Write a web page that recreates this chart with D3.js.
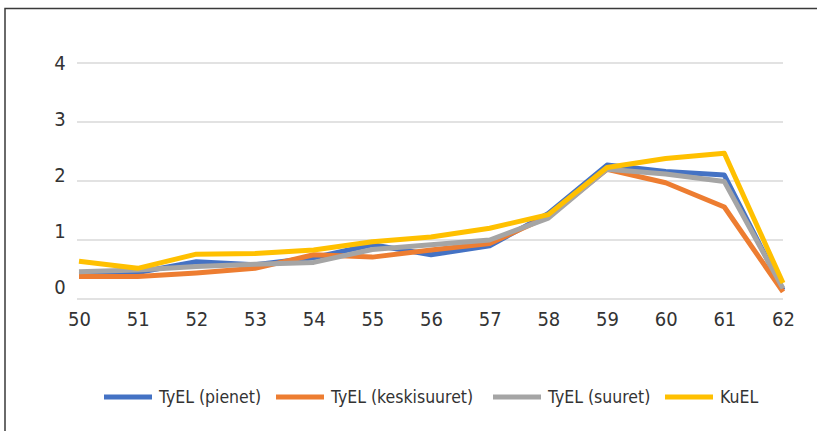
<!DOCTYPE html>
<html>
<head>
<meta charset="utf-8">
<script src="https://cdn.jsdelivr.net/npm/d3@7"></script>
<style>
  body { margin: 0; background: #fff; }
  svg { display: block; font-family: "DejaVu Sans Condensed", sans-serif; }
</style>
</head>
<body>
<script>
const ages = [50, 51, 52, 53, 54, 55, 56, 57, 58, 59, 60, 61, 62];
const yTicks = [0, 1, 2, 3, 4];

const pienet      = [0.42, 0.45, 0.63, 0.58, 0.70, 0.92, 0.75, 0.90, 1.45, 2.27, 2.16, 2.10, 0.15];
const keskisuuret = [0.38, 0.38, 0.44, 0.52, 0.75, 0.71, 0.83, 0.94, 1.40, 2.20, 1.97, 1.56, 0.12];
const suuret      = [0.46, 0.49, 0.55, 0.59, 0.62, 0.84, 0.92, 1.00, 1.37, 2.20, 2.12, 1.99, 0.18];
const kuel        = [0.64, 0.52, 0.76, 0.77, 0.83, 0.97, 1.05, 1.20, 1.43, 2.23, 2.38, 2.47, 0.27];

const seriesNames = ["TyEL (pienet)", "TyEL (keskisuuret)", "TyEL (suuret)", "KuEL"];
const seriesColors = ["#4472C4", "#ED7D31", "#A5A5A5", "#FFC000"];
const seriesValues = [pienet, keskisuuret, suuret, kuel];

const width = 817, height = 431;
const fontStack = "\"DejaVu Sans Condensed\", sans-serif";

const svg = d3.select("body")
  .append("svg")
  .attr("width", width)
  .attr("height", height);

// outer frame (only top and left edges are visible)
svg.append("path")
  .attr("d", `M5,${height} V8.5 H${width}`)
  .attr("fill", "none")
  .attr("stroke", "#3a3a3a")
  .attr("stroke-width", 1.5);

const xScale = d3.scaleLinear()
  .domain([50, 62])
  .range([79, 783]);

const yScale = d3.scaleLinear()
  .domain([0, 4])
  .range([299, 63]);

// labels in the original sit a bit higher than their gridlines
const yLabel = d3.scaleLinear()
  .domain([0, 4])
  .range([287, 63]);

// gridlines
svg.append("g")
  .selectAll("line")
  .data(yTicks)
  .enter()
  .append("line")
  .attr("x1", 77)
  .attr("x2", 783)
  .attr("y1", d => yScale(d))
  .attr("y2", d => yScale(d))
  .attr("stroke", "#d9d9d9")
  .attr("stroke-width", 1.5);

// y labels
svg.append("g")
  .selectAll("text")
  .data(yTicks)
  .enter()
  .append("text")
  .attr("x", 60)
  .attr("y", d => yLabel(d))
  .attr("dy", "0.36em")
  .attr("text-anchor", "middle")
  .attr("font-size", 20)
  .attr("fill", "#333")
  .text(d => d);

// x axis labels
const xAxis = svg.append("g")
  .attr("transform", "translate(0, 309)")
  .call(d3.axisBottom(xScale).tickValues(ages).tickFormat(d3.format("d")).tickSize(0));
xAxis.select(".domain").remove();
xAxis.selectAll("text")
  .attr("font-size", 20)
  .attr("fill", "#333")
  .attr("font-family", fontStack);

const line = d3.line()
  .x((d, i) => xScale(ages[i]))
  .y(d => yScale(d));

svg.append("g")
  .selectAll("path")
  .data(seriesValues)
  .enter()
  .append("path")
  .attr("d", d => line(d))
  .attr("fill", "none")
  .attr("stroke", (d, i) => seriesColors[i])
  .attr("stroke-width", 5)
  .attr("stroke-linejoin", "round");

// legend
const legendX = [104, 276, 493, 665];
const legend = svg.append("g")
  .selectAll("g")
  .data(seriesNames)
  .enter()
  .append("g")
  .attr("transform", (d, i) => `translate(${legendX[i]}, 397)`);

legend.append("line")
  .attr("x1", 0)
  .attr("x2", 48)
  .attr("stroke", (d, i) => seriesColors[i])
  .attr("stroke-width", 5);

legend.append("text")
  .attr("x", 55)
  .attr("dy", "0.36em")
  .attr("font-size", 17.5)
  .attr("fill", "#333")
  .text(d => d);
</script>
</body>
</html>
